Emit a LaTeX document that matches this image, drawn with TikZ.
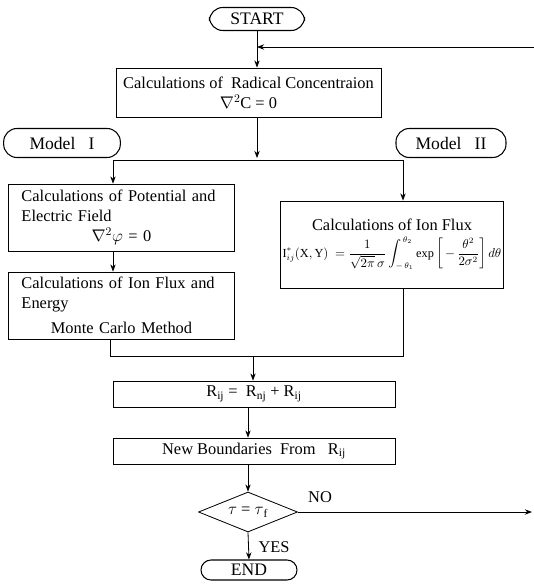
\documentclass[tikz,border=0pt]{standalone}
\usepackage{amsmath}
\usepackage{fontspec}
\setmainfont{Liberation Serif}
\usetikzlibrary{arrows.meta}
\usetikzlibrary{shapes.geometric}

\tikzset{
  box/.style={draw,rectangle,line width=0.7pt,inner sep=2pt,font=\fontsize{14}{17}\selectfont},
  pill/.style={draw,rectangle,rounded corners=4mm,line width=0.9pt,inner sep=1pt,font=\fontsize{15}{17}\selectfont},
  decision/.style={draw,diamond,line width=0.7pt,inner sep=0pt,aspect=2.4,font=\fontsize{14}{17}\selectfont},
  lbl/.style={font=\fontsize{14}{17}\selectfont}
}

\begin{document}
\begin{tikzpicture}[>=Stealth,x=0.03cm,y=-0.03cm,line width=0.7pt]
                \useasboundingbox (0,0) rectangle (534,588);
                % start and main calculation
                \node[pill,minimum width=2.85cm,minimum height=0.69cm] (start) at (257,19) {START};
                \node[box,minimum width=7.95cm,minimum height=1.47cm,align=center] (rad) at (248.5,92.5)
                    {Calculations of\ \ Radical Concentraion\\ $\nabla^2$C = 0};
                \node[pill,minimum width=3.5cm,minimum height=0.87cm] (model1) at (62,143) {Model\ \ \ I};
                \node[pill,minimum width=3.3cm,minimum height=0.87cm] (model2) at (451,143) {Model\ \ \ II};
                % model I
                \node[box,text width=6.0cm,inner xsep=0.4cm,minimum height=2.01cm,align=left] (pot) at (121.5,217.5)
                    {Calculations of Potential and Electric Field\par{\centering $\nabla^2\varphi$ = 0\par}};
                \node[box,text width=6.0cm,inner xsep=0.4cm,minimum height=2.01cm,align=left] (ion) at (121.5,305.5)
                    {Calculations of Ion Flux and Energy\par\vspace{4pt}{\centering Monte Carlo Method\par}};
                % model II
                \node[box,minimum width=6.48cm,minimum height=2.61cm,align=center] (flux) at (392,244.5)
                    {Calculations of Ion Flux\\[4pt]
                    {\fontsize{10.5}{13}\selectfont $\displaystyle \mathrm{I}^{*}_{ij}(\mathrm{X},\mathrm{Y})\ = \frac{1}{\sqrt{2\pi}\,\sigma}\int_{-\,\theta_1}^{\,\theta_2}\exp\left[\,-\,\frac{\theta^2}{2\sigma^2}\right]d\theta$}};
                % update and test
                \node[box,minimum width=8.46cm,minimum height=0.78cm] (rsum) at (254,394)
                    {R\textsubscript{ij} =\ \ R\textsubscript{nj} + R\textsubscript{ij}};
                \node[box,minimum width=8.46cm,minimum height=0.78cm] (bound) at (254,451)
                    {New Boundaries\ \ From\ \ \ R\textsubscript{ij}};
                \node[decision,minimum width=2.97cm,minimum height=1.2cm] (test) at (248,512) {$\tau$ = $\tau$\textsubscript{f}};
                \node[pill,minimum width=2.88cm,minimum height=0.6cm,rounded corners=3mm] (end) at (249,570) {END};
                \node[lbl] (no) at (320,497) {NO};
                \node[lbl] (yes) at (274,547) {YES};
                \coordinate (back) at (534,47);
                \coordinate (out) at (532,512);
                \coordinate (split) at (257,158);
                \coordinate (splitL) at (113,160);
                \coordinate (splitR) at (403,160);
                \coordinate (joinL) at (110,356);
                \coordinate (joinR) at (403,356);
                \coordinate (join) at (253,356);
                % connectors
                \draw [->](start.south)--(start.south |- rad.north);
                \draw [->](back)--(back -| start.south);
                \draw [->](split |- rad.south)--(split);
                \draw (splitL)--(splitR);
                \draw [->](splitL)--(splitL |- pot.north);
                \draw [->](splitR)--(splitR |- flux.north);
                \draw [->](pot.south -| splitL)--(ion.north -| splitL);
                \draw (ion.south -| joinL)--(joinL)--(joinR)--(flux.south -| joinR);
                \draw [->](join)--(join |- rsum.north);
                \draw [->](test.north |- rsum.south)--(test.north |- bound.north);
                \draw [->](test.north |- bound.south)--(test.north);
                \draw [->](test.east)--(out);
                \draw [->](test.south)--(end.north);
            \end{tikzpicture}
\end{document}
